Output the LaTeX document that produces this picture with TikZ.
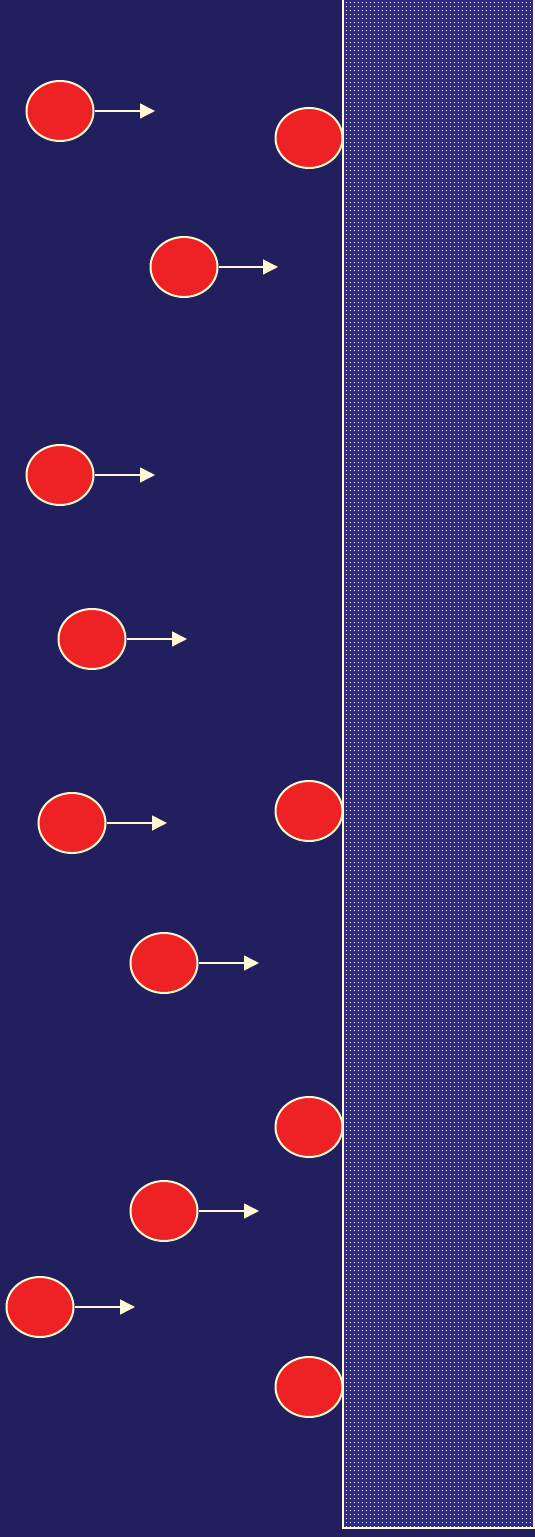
\documentclass[tikz,border=0pt]{standalone}
\usetikzlibrary{arrows.meta,patterns.meta,shapes.geometric}
\definecolor{navy}{RGB}{33,31,94}
\definecolor{wallblue}{RGB}{44,44,136}
\definecolor{dotgrey}{RGB}{215,212,210}
\definecolor{cream}{RGB}{255,248,208}
\definecolor{ballred}{RGB}{238,34,36}
\tikzdeclarepattern{name=walldots,type=uncolored,bounding box={(0pt,0pt) and (4.2pt,4.2pt)},tile size={(4.2pt,4.2pt)},code={\fill (2.1pt,2.1pt) rectangle +(1.3pt,1.3pt);}}
\tikzset{
  ball/.style={ellipse, draw=cream, line width=2pt, fill=ballred, minimum width=67pt, minimum height=60pt, inner sep=0pt},
  push/.style={draw=cream, line width=1.5pt, -{Triangle[length=15pt,width=15pt]}}
}
\begin{document}
\begin{tikzpicture}[x=1pt,y=1pt]
\fill[navy] (0,0) rectangle (535,1537);
\useasboundingbox (0,0) rectangle (535,1537);
% wall
\fill[wallblue] (343,9) rectangle (534,1540);
\fill[pattern=walldots,pattern color=dotgrey] (343,9) rectangle (534,1540);
\draw[cream,line width=2.5pt] (343,1540) -- (343,9) -- (534,9) -- (534,1540);
% balls
\foreach \n/\x/\y in {1/60/111,2/309/138,3/184/267,4/60/475,5/92/639,6/309/811,7/72/823,8/164/963,9/309/1127,10/164/1211,11/40/1307,12/309/1387}{
  \node[ball] (b\n) at (\x,1537-\y) {};
}
\foreach \n/\x/\y in {1/155/111,3/278/267,4/155/475,5/187/639,7/167/823,8/259/963,10/259/1211,11/135/1307}{
  \coordinate (a\n) at (\x,1537-\y);
  \draw[push] (b\n.east) -- (a\n);
}
\end{tikzpicture}
\end{document}
